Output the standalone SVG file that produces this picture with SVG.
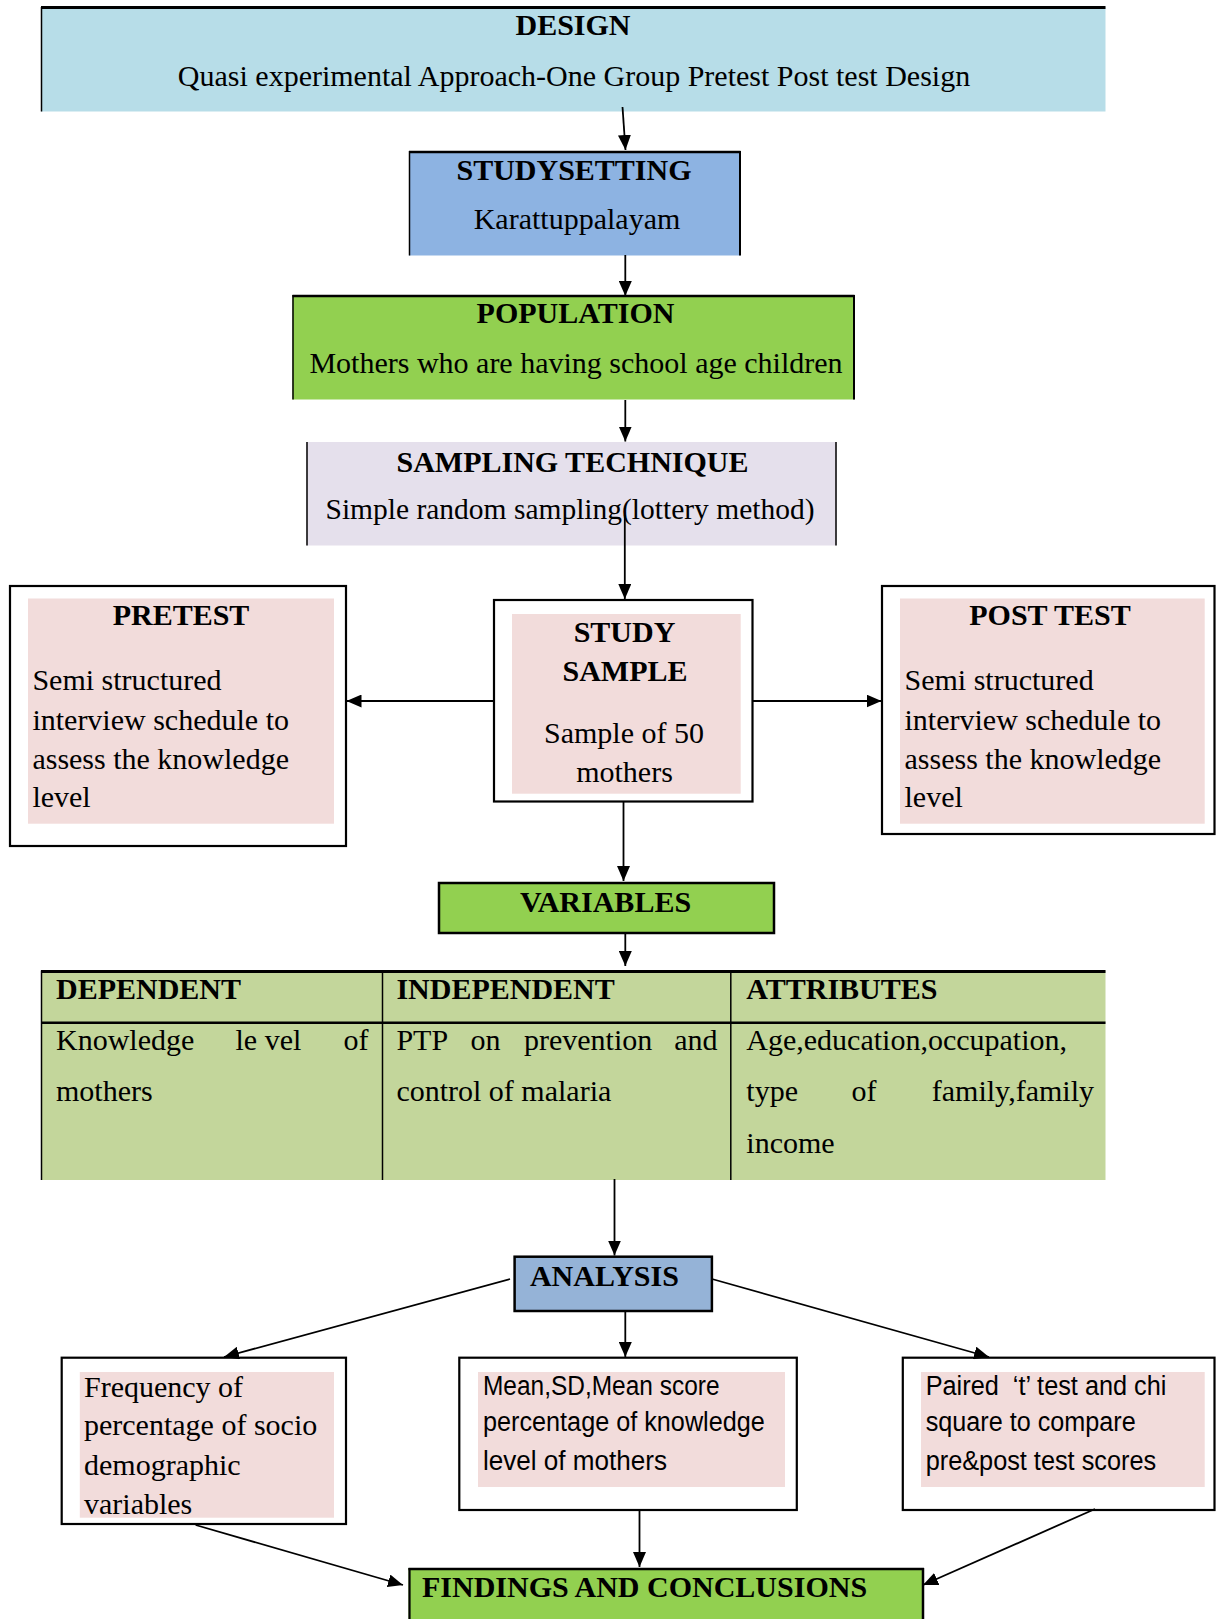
<svg xmlns="http://www.w3.org/2000/svg" width="1217" height="1619" viewBox="0 0 1217 1619">
<style>
.t{font-family:"Liberation Serif","Times New Roman",serif;font-size:30px;fill:#000}
.b{font-weight:bold}
.m{text-anchor:middle}
.e{text-anchor:end}
.s{font-family:"Liberation Sans",Arial,sans-serif;font-size:27px;fill:#000}
.c{stroke:#000;stroke-width:1.8;fill:none;marker-end:url(#ah)}
.k{stroke:#000;fill:none}
.ob{fill:#fff;stroke:#000;stroke-width:2.2}
.pk{fill:#f2dcdb}
.gr{fill:#92d050}
</style>
<defs>
<marker id="ah" markerUnits="userSpaceOnUse" markerWidth="16" markerHeight="13" refX="15" refY="6.5" orient="auto">
<path d="M0,0 L15,6.5 L0,13 Z" fill="#000"/>
</marker>
</defs>

<g id="design">
<rect x="41" y="7" width="1064.5" height="104.5" fill="#b7dde8"/>
<path class="k" d="M41,7.5 H1105.5" stroke-width="3"/>
<path class="k" d="M41.5,7 V111.5" stroke-width="1.5"/>
<text class="t b m" x="573" y="35">DESIGN</text>
<text class="t m" x="574" y="86">Quasi experimental Approach-One Group Pretest Post test Design</text>
</g>

<g id="studysetting">
<rect x="409" y="151" width="331.5" height="104.5" fill="#8db3e2"/>
<path class="k" d="M409,152 H740.5" stroke-width="2.5"/>
<path class="k" d="M409.5,151 V255.5" stroke-width="1.5"/>
<path class="k" d="M740,151 V255.5" stroke-width="2"/>
<text class="t b m" x="574" y="180">STUDYSETTING</text>
<text class="t m" x="577" y="229">Karattuppalayam</text>
</g>

<g id="population">
<rect x="292.5" y="295" width="562" height="104.5" class="gr"/>
<path class="k" d="M292.5,296 H854.5" stroke-width="2.5"/>
<path class="k" d="M293,295 V399.5" stroke-width="1.5"/>
<path class="k" d="M854,295 V399.5" stroke-width="2"/>
<text class="t b m" x="575.5" y="323">POPULATION</text>
<text class="t m" x="576" y="373">Mothers who are having school age children</text>
</g>

<g id="sampling">
<rect x="306.5" y="442" width="530" height="103.5" fill="#e5e0ec"/>
<path class="k" d="M307,442 V545.5" stroke-width="1.5"/>
<path class="k" d="M836,442 V545.5" stroke-width="1.5"/>
<text class="t b m" x="572.5" y="471.5">SAMPLING TECHNIQUE</text>
<text class="t m" x="570" y="519" textLength="489" lengthAdjust="spacingAndGlyphs">Simple random sampling(lottery method)</text>
</g>

<g id="studysample">
<rect class="ob" x="494" y="600" width="258.5" height="201.5"/>
<rect class="pk" x="512" y="614" width="228.7" height="179.7"/>
<text class="t b m" x="624.5" y="641.5">STUDY</text>
<text class="t b m" x="625" y="681">SAMPLE</text>
<text class="t m" x="624" y="743">Sample of 50</text>
<text class="t m" x="624.5" y="781.5">mothers</text>
</g>

<g id="pretest">
<rect class="ob" x="10" y="586" width="336" height="260"/>
<rect class="pk" x="28" y="598.5" width="306" height="225.2"/>
<text class="t b m" x="181" y="625">PRETEST</text>
<text class="t" x="32.4" y="689.5">Semi structured</text>
<text class="t" x="32.4" y="729.5">interview schedule to</text>
<text class="t" x="32.4" y="769">assess the knowledge</text>
<text class="t" x="32.4" y="807.3">level</text>
</g>

<g id="posttest">
<rect class="ob" x="882" y="586" width="332.5" height="248"/>
<rect class="pk" x="900" y="598.5" width="304.7" height="225.2"/>
<text class="t b m" x="1050" y="625">POST TEST</text>
<text class="t" x="904.5" y="689.5">Semi structured</text>
<text class="t" x="904.5" y="729.5">interview schedule to</text>
<text class="t" x="904.5" y="769">assess the knowledge</text>
<text class="t" x="904.5" y="807.3">level</text>
</g>

<g id="variables">
<rect x="439" y="883" width="335" height="50" class="gr" stroke="#000" stroke-width="2.5"/>
<text class="t b m" x="605.5" y="911.5">VARIABLES</text>
</g>

<g id="table">
<rect x="41" y="970.5" width="1064.5" height="209.5" fill="#c3d69b"/>
<path class="k" d="M41,971.5 H1105.5" stroke-width="3"/>
<path class="k" d="M41,1022.7 H1105.5" stroke-width="2.5"/>
<path class="k" d="M41.5,970.5 V1180" stroke-width="1.5"/>
<path class="k" d="M382.5,970.5 V1180" stroke-width="1.5"/>
<path class="k" d="M730.8,970.5 V1180" stroke-width="1.5"/>
<text class="t b" x="56" y="999">DEPENDENT</text>
<text class="t b" x="396.4" y="999">INDEPENDENT</text>
<text class="t b" x="746.3" y="999">ATTRIBUTES</text>
<text class="t" y="1050"><tspan x="56">Knowledge</tspan> <tspan x="235.5">le vel</tspan> <tspan x="368.5" class="e">of</tspan></text>
<text class="t" x="56" y="1100.7">mothers</text>
<text class="t" y="1050"><tspan x="396.4">PTP</tspan> <tspan x="470.5">on</tspan> <tspan x="524">prevention</tspan> <tspan x="717.5" class="e">and</tspan></text>
<text class="t" x="396.4" y="1100.7">control of malaria</text>
<text class="t" x="746.3" y="1050">Age,education,occupation,</text>
<text class="t" y="1100.7"><tspan x="746.3">type</tspan> <tspan x="851.5">of</tspan> <tspan x="1094" class="e">family,family</tspan></text>
<text class="t" x="746.3" y="1153">income</text>
</g>

<g id="analysis">
<rect x="514.6" y="1256.7" width="197.3" height="54.3" fill="#95b3d7" stroke="#000" stroke-width="2.5"/>
<text class="t b m" x="604.4" y="1286">ANALYSIS</text>
</g>

<g id="frequency">
<rect class="ob" x="61.7" y="1357.7" width="284.3" height="166.3"/>
<rect class="pk" x="79.8" y="1372" width="254.2" height="145.7"/>
<text class="t" x="84" y="1397">Frequency of</text>
<text class="t" x="84" y="1435">percentage of socio</text>
<text class="t" x="84" y="1475">demographic</text>
<text class="t" x="84" y="1514">variables</text>
</g>

<g id="mean">
<rect class="ob" x="459.3" y="1357.7" width="337.5" height="152.3"/>
<rect class="pk" x="478" y="1372" width="307" height="115"/>
<text class="s" x="483" y="1395" textLength="236.5" lengthAdjust="spacingAndGlyphs">Mean,SD,Mean score</text>
<text class="s" x="483" y="1431" textLength="281.8" lengthAdjust="spacingAndGlyphs">percentage of knowledge</text>
<text class="s" x="483" y="1470" textLength="184" lengthAdjust="spacingAndGlyphs">level of mothers</text>
</g>

<g id="paired">
<rect class="ob" x="902.8" y="1357.7" width="311.7" height="152.3"/>
<rect class="pk" x="921" y="1372" width="283.7" height="115"/>
<text class="s" x="925.7" y="1395" textLength="240.7" lengthAdjust="spacingAndGlyphs" xml:space="preserve">Paired  ‘t’ test and chi</text>
<text class="s" x="925.7" y="1431" textLength="210" lengthAdjust="spacingAndGlyphs">square to compare</text>
<text class="s" x="925.7" y="1470" textLength="230.4" lengthAdjust="spacingAndGlyphs">pre&amp;post test scores</text>
</g>

<g id="findings">
<rect x="408.5" y="1568" width="515.5" height="60" class="gr"/>
<path class="k" d="M408.5,1569 H924" stroke-width="2.5"/>
<path class="k" d="M409.5,1568 V1619" stroke-width="2.2"/>
<path class="k" d="M923,1568 V1619" stroke-width="2.5"/>
<text class="t b" x="422" y="1596.7">FINDINGS AND CONCLUSIONS</text>
</g>

<g id="connectors">
<path class="c" d="M622.5,107 L625.5,150"/>
<path class="c" d="M625.3,255 L625.3,296"/>
<path class="c" d="M625.3,400 L625.3,441.5"/>
<path class="c" d="M624.8,515 L624.8,599"/>
<path class="c" d="M494,701 L346.5,701"/>
<path class="c" d="M752.5,701 L881.5,701"/>
<path class="c" d="M623.5,802 L623.5,881"/>
<path class="c" d="M625.3,933 L625.3,966"/>
<path class="c" d="M614.5,1179 L614.5,1255.5"/>
<path class="c" d="M510,1279 L224,1357"/>
<path class="c" d="M625.3,1311 L625.3,1357"/>
<path class="c" d="M712,1279 L989,1357"/>
<path class="c" d="M195.6,1525 L403,1585"/>
<path class="c" d="M639.5,1510 L639.5,1567"/>
<path class="c" d="M1095,1509 L923,1585"/>
</g>
</svg>
